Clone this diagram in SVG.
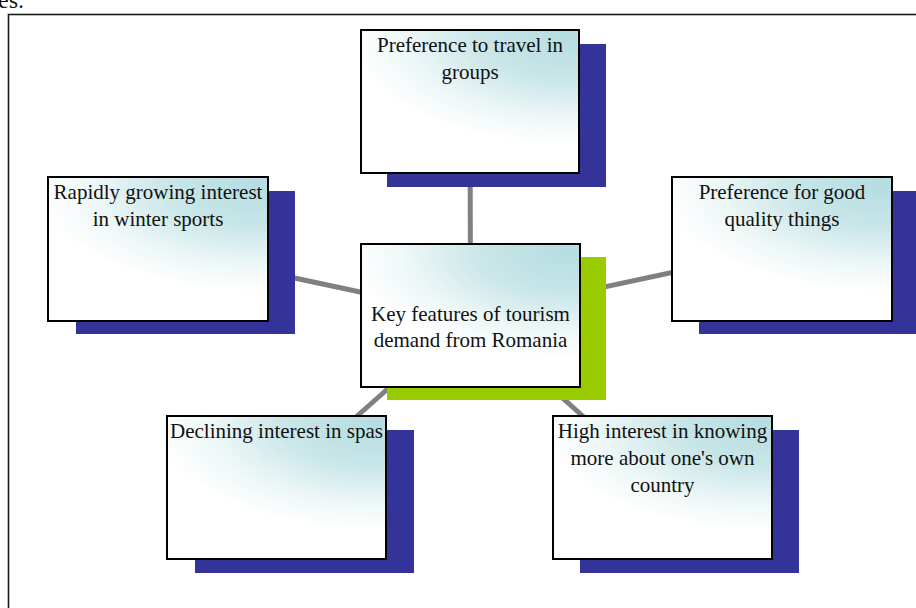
<svg xmlns="http://www.w3.org/2000/svg" width="916" height="608" viewBox="0 0 916 608">
  <defs>
    <radialGradient id="boxFill" cx="0.95" cy="0.05" r="1" fx="0.95" fy="0.05" gradientTransform="translate(0.95 0.05) scale(1 0.75) translate(-0.95 -0.05)">
      <stop offset="0" stop-color="#b5dde1"/>
      <stop offset="0.4" stop-color="#c9e6e8"/>
      <stop offset="0.75" stop-color="#eef7f7"/>
      <stop offset="1" stop-color="#ffffff"/>
    </radialGradient>
  </defs>
  <style>
    .frame { fill: none; stroke: #1a1a1a; stroke-width: 1.6; }
    .link { stroke: #808080; stroke-width: 5; fill: none; }
    .shadow { fill: #333399; }
    .shadow-key { fill: #99cc00; }
    .box { fill: url(#boxFill); stroke: #000000; stroke-width: 2; }
    .label { font-family: "Liberation Serif", "Times New Roman", serif; font-size: 21px; fill: #111111; text-anchor: middle; }
    .stray { font-family: "Liberation Serif", "Times New Roman", serif; font-size: 24px; fill: #111111; }
  </style>

  <rect width="916" height="608" fill="#ffffff"/>

  <!-- text fragment above the frame -->
  <text class="stray" x="-2" y="8">es.</text>

  <!-- outer frame -->
  <rect class="frame" x="8.5" y="14.5" width="1000" height="1000"/>

  <!-- connectors: centre to each satellite -->
  <g id="connectors">
    <line class="link" x1="470.5" y1="315.5" x2="470" y2="101.5"/>
    <line class="link" x1="470.5" y1="315.5" x2="158" y2="249"/>
    <line class="link" x1="470.5" y1="315.5" x2="782" y2="249"/>
    <line class="link" x1="470.5" y1="315.5" x2="276.5" y2="487.5"/>
    <line class="link" x1="470.5" y1="315.5" x2="662.5" y2="487.5"/>
  </g>

  <g id="node-groups">
    <rect class="shadow" x="387" y="44" width="219" height="143"/>
    <rect class="box" x="361" y="30" width="218" height="143"/>
    <text class="label" x="470" y="52">Preference to travel in</text>
    <text class="label" x="470" y="79">groups</text>
  </g>

  <g id="node-winter">
    <rect class="shadow" x="76" y="191" width="219" height="143"/>
    <rect class="box" x="48" y="177" width="220" height="144"/>
    <text class="label" x="158" y="199">Rapidly growing interest</text>
    <text class="label" x="158" y="226">in winter sports</text>
  </g>

  <g id="node-quality">
    <rect class="shadow" x="699" y="191" width="219" height="143"/>
    <rect class="box" x="672" y="177" width="220" height="144"/>
    <text class="label" x="782" y="199">Preference for good</text>
    <text class="label" x="782" y="226">quality things</text>
  </g>

  <g id="node-spas">
    <rect class="shadow" x="195" y="430" width="219" height="143"/>
    <rect class="box" x="167" y="416" width="219" height="143"/>
    <text class="label" x="276.5" y="438">Declining interest in spas</text>
  </g>

  <g id="node-country">
    <rect class="shadow" x="580" y="430" width="219" height="143"/>
    <rect class="box" x="553" y="416" width="219" height="143"/>
    <text class="label" x="662.5" y="438">High interest in knowing</text>
    <text class="label" x="662.5" y="465">more about one's own</text>
    <text class="label" x="662.5" y="492">country</text>
  </g>

  <g id="node-key">
    <rect class="shadow-key" x="387" y="257" width="219" height="143"/>
    <rect class="box" x="361" y="244" width="219" height="143"/>
    <text class="label" x="470.5" y="321">Key features of tourism</text>
    <text class="label" x="470.5" y="347">demand from Romania</text>
  </g>
</svg>
